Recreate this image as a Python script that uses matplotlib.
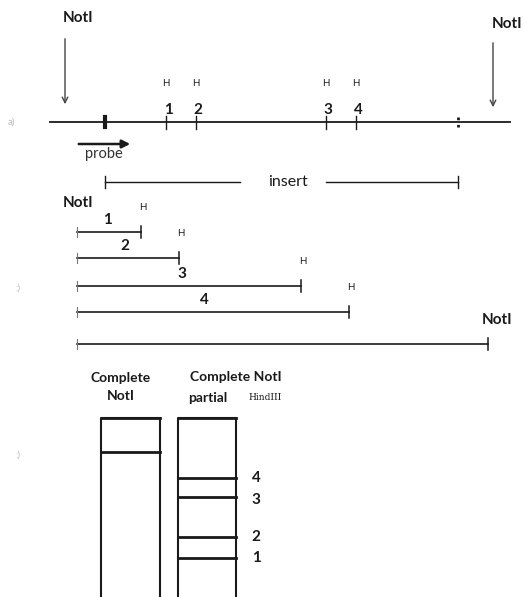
import matplotlib.pyplot as plt
from matplotlib.patches import Rectangle

# map positions (drawing units)
map_start, map_end = 50, 510
notI_sites = [65, 493]
insert_ends = [105, 458]
hind_sites = [166, 196, 326, 356]
hind_labels = ['1', '2', '3', '4']

# partial digest fragments (from left NotI end)
frag_start = 77
frag_ends = [141, 179, 301, 349, 488]
frag_labels = ['1', '2', '3', '4', '']
frag_y = [232, 258, 286, 312, 344]

# gel bands
lane_names = ['Complete\nNotI', 'Complete NotI']
lane1_bands = [452]
lane2_bands = [478, 497, 537, 558]
band_labels = ['4', '3', '2', '1']

plt.rcParams['font.family'] = ['Lato', 'DejaVu Sans']
fig = plt.figure(figsize=(5.24, 5.97), dpi=100)
ax = fig.add_axes([0, 0, 1, 1])
ax.set_xlim(0, 524)
ax.set_ylim(597, 0)
ax.axis('off')

k = '#1a1a1a'
bold = dict(color=k, fontweight='bold')

# ---- a) restriction map
y0 = 122
ax.text(8, y0, 'a)', color='#bbbbbb', fontsize=7, va='center')
ax.plot([map_start, map_end], [y0, y0], color=k, lw=1.3)
ax.plot([insert_ends[0]] * 2, [y0 - 5, y0 + 5], color=k, lw=3)
ax.plot([insert_ends[1]] * 2, [y0 - 5, y0 + 5], color=k, lw=2, ls=':')
for i, x in enumerate(hind_sites):
    ax.plot([x, x], [y0 - 6, y0 + 7], color=k, lw=1)
    ax.text(x, 83, 'H', fontsize=7, ha='center', va='center', color=k)
    ax.text(x + 2, 110, hind_labels[i], fontsize=11, ha='center', va='center', **bold)
ax.annotate('', xy=(notI_sites[0], 107), xytext=(notI_sites[0], 36),
            arrowprops=dict(arrowstyle='->', color='#444444', lw=1))
ax.annotate('', xy=(notI_sites[1], 110), xytext=(notI_sites[1], 40),
            arrowprops=dict(arrowstyle='->', color='#444444', lw=1))
ax.text(78, 18, 'NotI', fontsize=11, ha='center', va='center', **bold)
ax.text(507, 24, 'NotI', fontsize=11, ha='center', va='center', **bold)

# probe
ax.annotate('', xy=(133, 144), xytext=(76, 144),
            arrowprops=dict(arrowstyle='-|>', color=k, lw=1.8, mutation_scale=12))
ax.text(104, 154, 'probe', fontsize=10.5, ha='center', va='center', color='#333333')

# insert
yi = 182
ax.plot([insert_ends[0], 240], [yi, yi], color=k, lw=1)
ax.plot([326, insert_ends[1]], [yi, yi], color=k, lw=1)
for x in insert_ends:
    ax.plot([x, x], [yi - 6, yi + 6], color=k, lw=1)
ax.text(288, yi, 'insert', fontsize=11.5, ha='center', va='center', color=k)

# ---- b) partial digest fragments
ax.text(15, 288, ':)', color='#bbbbbb', fontsize=7, va='center')
ax.text(78, 203, 'NotI', fontsize=11, ha='center', va='center', **bold)
for i, xe in enumerate(frag_ends):
    y = frag_y[i]
    ax.plot([frag_start, xe], [y, y], color=k, lw=1.2)
    ax.plot([frag_start, frag_start], [y - 5, y + 5], color='#777777', lw=0.8)
    ax.plot([xe, xe], [y - 6, y + 6], color=k, lw=1.1)
    if frag_labels[i]:
        ax.text(frag_start + (xe - frag_start) * 0.47, y - 12, frag_labels[i],
                fontsize=11, ha='center', va='center', **bold)
        ax.text(xe + 2, y - 25, 'H', fontsize=7, ha='center', va='center', color=k)
ax.text(497, 320, 'NotI', fontsize=11, ha='center', va='center', **bold)

# ---- c) gel
ax.text(15, 455, ':)', color='#bbbbbb', fontsize=7, va='center')
ax.text(121, 387, lane_names[0], fontsize=10, ha='center', va='center',
        linespacing=1.65, **bold)
ax.text(236, 377, lane_names[1], fontsize=10, ha='center', va='center', **bold)
ax.text(208, 398, 'partial', fontsize=10, ha='center', va='center', **bold)
ax.text(265, 398, 'HindIII', fontsize=6.5, ha='center', va='center', color=k,
        family='DejaVu Serif')

lanes = [(101, 160), (178, 236)]
for xl, xr in lanes:
    ax.add_patch(Rectangle((xl, 418), xr - xl, 185, fill=False, ec=k, lw=1.5))
    ax.plot([xl, xr], [418, 418], color=k, lw=2)
for y in lane1_bands:
    ax.plot(lanes[0], [y, y], color=k, lw=2)
for i, y in enumerate(lane2_bands):
    ax.plot(lanes[1], [y, y], color=k, lw=2)
    ax.text(256, y + (0 if i != 1 else 3), band_labels[i], fontsize=11,
            ha='center', va='center', **bold)

fig.savefig('out.png', dpi=100)
